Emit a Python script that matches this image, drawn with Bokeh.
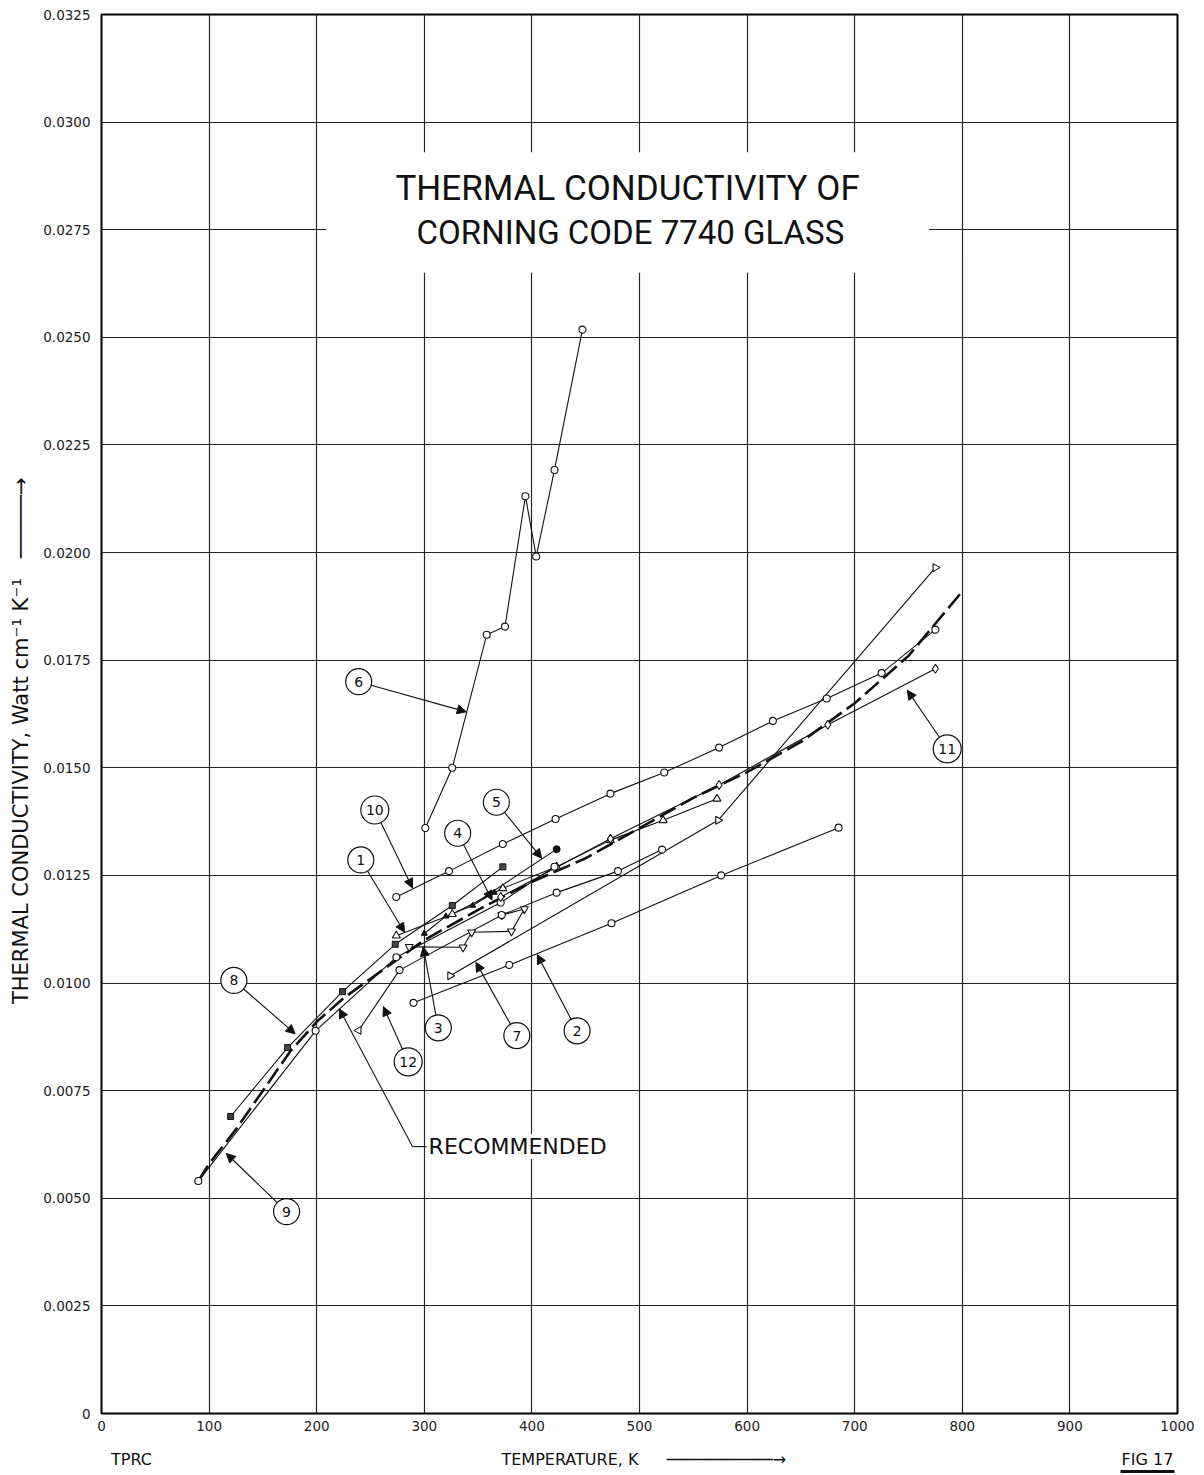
import math
from bokeh.plotting import figure
from bokeh.models import (Range1d, FixedTicker, CustomJSTickFormatter, Label, Arrow,
                          NormalHead, BoxAnnotation, LinearAxis)
from bokeh.core.properties import value
from bokeh.embed import file_html
from bokeh.resources import INLINE

# ---------------- data ----------------
x_ticks = [0, 100, 200, 300, 400, 500, 600, 700, 800, 900, 1000]
y_ticks = [0, 0.0025, 0.0050, 0.0075, 0.0100, 0.0125, 0.0150, 0.0175, 0.0200,
           0.0225, 0.0250, 0.0275, 0.0300, 0.0325]

rec_T = [90, 100, 125, 150, 175, 200, 225, 250, 275, 300, 350, 400, 450, 500, 550,
         600, 650, 700, 750, 800]
rec_K = [0.0054, 0.0058, 0.0066, 0.0075, 0.0084, 0.0091, 0.00965, 0.0101, 0.01055,
         0.0110, 0.0117, 0.01235, 0.0129, 0.0136, 0.0143, 0.0149, 0.0156, 0.0165,
         0.0176, 0.0191]

s1_T = [274, 326, 373, 423, 473, 522, 572]
s1_K = [0.0111, 0.0116, 0.0122, 0.0127, 0.01332, 0.01378, 0.01428]

s2_T = [290, 379, 474, 576, 685]
s2_K = [0.00954, 0.01042, 0.01139, 0.0125, 0.01361]

s3_T = [286, 336, 344, 381, 393, 372]
s3_K = [0.01084, 0.01083, 0.01118, 0.0112, 0.01172, 0.01158]

s4_T = [300, 320, 345, 365]
s4_K = [0.01115, 0.01155, 0.0118, 0.0121]

s5_T = [350, 423]
s5_K = [0.0119, 0.01311]

s6_T = [301, 326, 358, 375, 394, 404, 421, 447]
s6_K = [0.0136, 0.0150, 0.01809, 0.01828, 0.02131, 0.01991, 0.02192, 0.02518]

s7_T = [324, 573, 775]
s7_K = [0.01017, 0.01378, 0.01965]

s8_T = [120, 173, 224, 273, 326, 373]
s8_K = [0.0069, 0.0085, 0.0098, 0.0109, 0.0118, 0.0127]

s9_T = [90, 199, 274, 371, 421]
s9_K = [0.0054, 0.00889, 0.0106, 0.01187, 0.0127]

s10_T = [274, 323, 373, 422, 473, 523, 574, 624, 674, 725, 775]
s10_K = [0.0120, 0.0126, 0.01323, 0.01381, 0.01440, 0.01489, 0.01547, 0.01609,
         0.01661, 0.0172, 0.01821]

s11_T = [371, 473, 574, 675, 775]
s11_K = [0.0120, 0.01335, 0.0146, 0.0160, 0.0173]

s12_T = [239, 277, 372, 423, 480, 521]
s12_K = [0.0089, 0.0103, 0.01158, 0.0121, 0.0126, 0.0131]

# curve labels: text, label centre, arrow tip
curve_labels = [
    ("1", (241, 0.01286), (281.6, 0.01118)),
    ("2", (442, 0.00889), (405, 0.01066)),
    ("3", (313, 0.00896), (299, 0.01084)),
    ("4", (331, 0.01348), (363, 0.01193)),
    ("5", (367, 0.01420), (409, 0.01290)),
    ("6", (239, 0.01700), (339, 0.01630)),
    ("7", (386, 0.00878), (348, 0.01048)),
    ("8", (123, 0.01006), (180, 0.00882)),
    ("9", (172, 0.00469), (116, 0.00604)),
    ("10", (254, 0.01402), (289, 0.01221)),
    ("11", (786, 0.01544), (749, 0.01680)),
    ("12", (285, 0.00817), (262, 0.00945)),
]

# captions under the chart: text and centre (pixels from the frame's left edge)
caption_texts = ["TPRC", "TEMPERATURE,  K", "\u2500" * 11 + "\u2192", "FIG 17"]
caption_centres = [30, 471, 625, 1046]

FONT = "DejaVu Sans"
TFONT = "Roboto"
INK = "#111111"

W, H = 1196, 1475
BL, BR, BT, BB = 101, 19, 14, 62
SX = (W - BL - BR) / 1000.0          # px per kelvin
SY = (H - BT - BB) / 0.0325          # px per unit conductivity

p = figure(width=W, height=H, x_range=Range1d(0, 1000), y_range=Range1d(0, 0.0325),
           output_backend="svg", toolbar_location=None,
           min_border_left=BL, min_border_right=BR, min_border_top=BT, min_border_bottom=BB,
           background_fill_color="white", border_fill_color="white")

p.outline_line_color = "black"
p.outline_line_width = 2
p.xaxis.ticker = FixedTicker(ticks=x_ticks)
p.yaxis.ticker = FixedTicker(ticks=y_ticks)
p.xgrid.ticker = FixedTicker(ticks=x_ticks)
p.ygrid.ticker = FixedTicker(ticks=y_ticks)
p.yaxis.formatter = CustomJSTickFormatter(code="return tick == 0 ? '0' : tick.toFixed(4);")
for ax in (p.xaxis[0], p.yaxis[0]):
    ax.axis_line_color = None
    ax.major_tick_in = 0
    ax.major_tick_out = 0
    ax.minor_tick_in = 0
    ax.minor_tick_out = 0
    ax.major_label_text_font = FONT
    ax.major_label_text_font_size = "13.5px"
    ax.major_label_text_color = "#222222"
p.yaxis.major_label_standoff = 11
p.xaxis.major_label_standoff = 7
p.yaxis.axis_label = ("THERMAL   CONDUCTIVITY,   Watt   cm\u207b\u00b9   K\u207b\u00b9"
                      + "\u00a0" * 3 + "\u2500" * 5 + "\u2192")
p.yaxis.axis_label_text_font = FONT
p.yaxis.axis_label_text_font_size = "21px"
p.yaxis.axis_label_text_font_style = "normal"
p.yaxis.axis_label_text_color = INK
p.yaxis.axis_label_standoff = 7
for g in (p.xgrid[0], p.ygrid[0]):
    g.grid_line_color = "#262626"
    g.grid_line_width = 1.2

# caption row below the x axis
p.extra_x_ranges = {"cap": Range1d(0, W - BL - BR)}
cap_axis = LinearAxis(x_range_name="cap", ticker=FixedTicker(ticks=caption_centres),
                      major_label_overrides=dict(zip(caption_centres, caption_texts)),
                      axis_line_color=None, major_tick_in=0, major_tick_out=0,
                      minor_tick_in=0, minor_tick_out=0, major_label_standoff=16,
                      major_label_text_font=FONT, major_label_text_font_size="16px",
                      major_label_text_color=INK)
p.add_layout(cap_axis, "below")
# thick underline below "FIG 17"
under_axis = LinearAxis(x_range_name="cap", ticker=FixedTicker(ticks=[]),
                        bounds=(caption_centres[-1] - 27, caption_centres[-1] + 27),
                        axis_line_color=INK, axis_line_width=3, major_tick_in=0,
                        major_tick_out=0, minor_tick_in=0, minor_tick_out=0)
p.add_layout(under_axis, "below")

# white box behind the title
p.add_layout(BoxAnnotation(left=209, right=769, bottom=0.0265, top=0.0293,
                           fill_color="white", fill_alpha=1.0, line_color=None))
p.add_layout(Label(x=497, y=0.02846, text="THERMAL  CONDUCTIVITY  OF", text_font=TFONT,
                   text_font_size="35px", text_align="center", text_baseline="middle",
                   text_color=INK))
p.add_layout(Label(x=503, y=0.02744, text="CORNING  CODE  7740  GLASS", text_font=TFONT,
                   text_font_size="33px", text_align="center", text_baseline="middle",
                   text_color=INK))

open_kw = dict(fill_color="white", line_color=INK, line_width=1.1)

# recommended curve
p.line(rec_T, rec_K, line_color=INK, line_width=2.6, line_dash="18 6")

# series lines
for T, K in [(s1_T, s1_K), (s2_T, s2_K), (s3_T, s3_K), (s4_T, s4_K), (s5_T, s5_K),
             (s6_T, s6_K), (s7_T, s7_K), (s8_T, s8_K), (s9_T, s9_K), (s10_T, s10_K),
             (s11_T, s11_K), (s12_T, s12_K)]:
    p.line(T, K, line_color=INK, line_width=1.1)

# markers
p.scatter(s1_T, s1_K, marker="triangle", size=8, **open_kw)
p.scatter(s2_T, s2_K, marker="circle", size=7, **open_kw)
p.scatter(s3_T, s3_K, marker="inverted_triangle", size=8, **open_kw)
p.scatter(s4_T, s4_K, marker="triangle", size=6, fill_color=INK, line_color=INK)
p.scatter(s5_T[-1:], s5_K[-1:], marker="circle", size=7, fill_color=INK, line_color=INK)
p.scatter(s6_T, s6_K, marker="circle", size=7, **open_kw)
p.scatter(s7_T, s7_K, marker="triangle", angle=-math.pi / 2, size=8, **open_kw)
p.scatter(s8_T, s8_K, marker="square", size=6, fill_color="#444444", line_color=INK)
p.scatter(s9_T, s9_K, marker="circle", size=7, **open_kw)
p.scatter(s10_T, s10_K, marker="circle", size=7, **open_kw)
p.scatter(s11_T, s11_K, marker="diamond", size=9, **open_kw)
p.scatter(s12_T[:1], s12_K[:1], marker="triangle", angle=math.pi / 2, size=8, **open_kw)
p.scatter(s12_T[1:], s12_K[1:], marker="circle", size=7, **open_kw)

# circled labels with arrows
for txt, (lx, ly), (tx, ty) in curve_labels:
    r = 13 if len(txt) == 1 else 14
    dx, dy = (tx - lx) * SX, (ty - ly) * SY
    d = math.hypot(dx, dy)
    sx0 = lx + dx / d * r / SX
    sy0 = ly + dy / d * r / SY
    p.add_layout(Arrow(x_start=sx0, y_start=sy0, x_end=tx, y_end=ty, line_color=INK,
                       line_width=1.1,
                       end=NormalHead(size=9, fill_color=INK, line_color=INK, line_width=1)))
    p.scatter([lx], [ly], marker="circle", size=2 * r, fill_color="white", line_color=INK,
              line_width=1.2)
    p.text([lx], [ly], text=[txt], text_font=value(FONT), text_font_size="14px",
           text_align="center", text_baseline="middle", text_color=INK)

# RECOMMENDED pointer
rec_lbl = (304, 0.0062)
rec_elbow = (289, 0.0062)
rec_tip = (221, 0.0094)
p.add_layout(Arrow(x_start=rec_elbow[0], y_start=rec_elbow[1], x_end=rec_tip[0],
                   y_end=rec_tip[1], line_color=INK, line_width=1.1,
                   end=NormalHead(size=9, fill_color=INK, line_color=INK)))
p.line([rec_elbow[0], rec_lbl[0] - 2], [rec_elbow[1], rec_lbl[1]], line_color=INK,
       line_width=1.1)
p.add_layout(Label(x=rec_lbl[0], y=rec_lbl[1], text="RECOMMENDED", text_font=FONT,
                   text_font_size="22px", text_align="left", text_baseline="middle",
                   text_color=INK, background_fill_color="white"))

open("out.html", "w").write(file_html(p, INLINE))
